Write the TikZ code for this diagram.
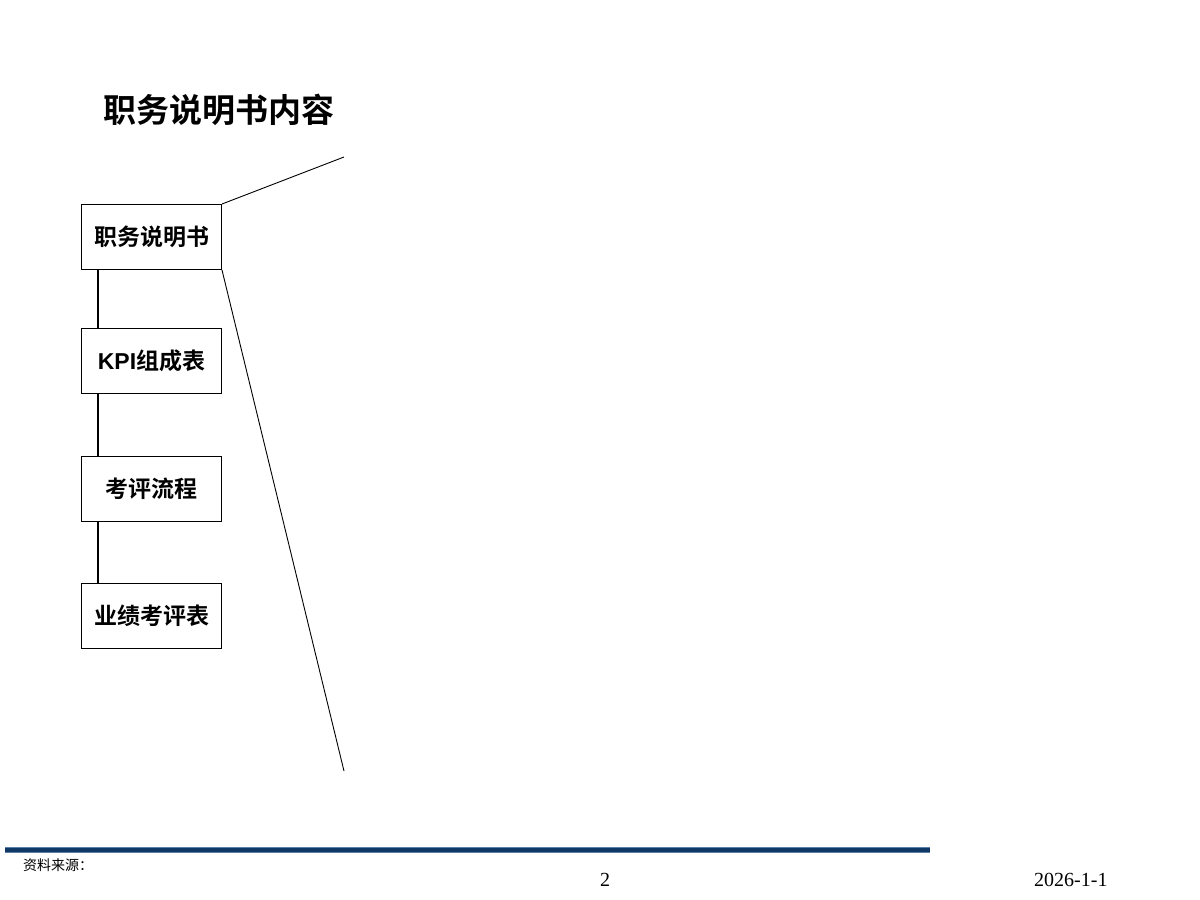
\documentclass[tikz,border=0pt]{standalone}
\usepackage{fontspec}
\setmainfont{Liberation Serif}
\newfontfamily\cjk{Noto Sans CJK SC}
\newfontfamily\cjkb{Noto Sans CJK SC Bold}
\newfontfamily\arialb{Liberation Sans Bold}
\definecolor{footblue}{HTML}{0F3866}
\definecolor{footedge}{HTML}{5B7FA6}
\begin{document}
\begin{tikzpicture}[x=1pt,y=-1pt,
  itembox/.style={draw=black, line width=1pt, minimum width=140pt, minimum height=65pt, inner sep=0pt, anchor=north west, font=\fontsize{23}{27}\selectfont\cjkb},
  conn/.style={draw=black, line width=1.8pt},
  zoomline/.style={draw=black, line width=0.9pt}]
\useasboundingbox (0,0) rectangle (1200,900);
\fill[white] (0,0) rectangle (1200,900);
\node[anchor=west, font=\fontsize{33}{40}\selectfont\cjkb, inner sep=0pt] (title) at (103,110) {职务说明书内容};
\node[itembox] (b1) at (81,204) {职务说明书};
\node[itembox] (b2) at (81,328) {{\arialb KPI}组成表};
\node[itembox] (b3) at (81,456) {考评流程};
\node[itembox] (b4) at (81,583) {业绩考评表};
\draw[conn] ([xshift=17pt]b1.south west) -- ([xshift=17pt]b2.north west);
\draw[conn] ([xshift=17pt]b2.south west) -- ([xshift=17pt]b3.north west);
\draw[conn] ([xshift=17pt]b3.south west) -- ([xshift=17pt]b4.north west);
\coordinate (zt) at (344,157);
\coordinate (zb) at (344,771);
\draw[zoomline] (b1.north east) -- (zt);
\draw[zoomline] (b1.south east) -- (zb);
\coordinate (fl) at (5,850);
\coordinate (fr) at (930,850);
\draw[footedge, line width=5.5pt] (fl) -- (fr);
\draw[footblue, line width=4pt] (fl) -- (fr);
\node[anchor=west, inner sep=0pt, font=\fontsize{14}{16}\selectfont\cjk] (src) at (23,865) {资料来源：};
\node[inner sep=0pt, font=\fontsize{20}{24}\selectfont] (pg) at (605,880) {2};
\node[anchor=west, inner sep=0pt, font=\fontsize{20}{24}\selectfont] (dt) at (1034,880) {2026-1-1};
\end{tikzpicture}
\end{document}
